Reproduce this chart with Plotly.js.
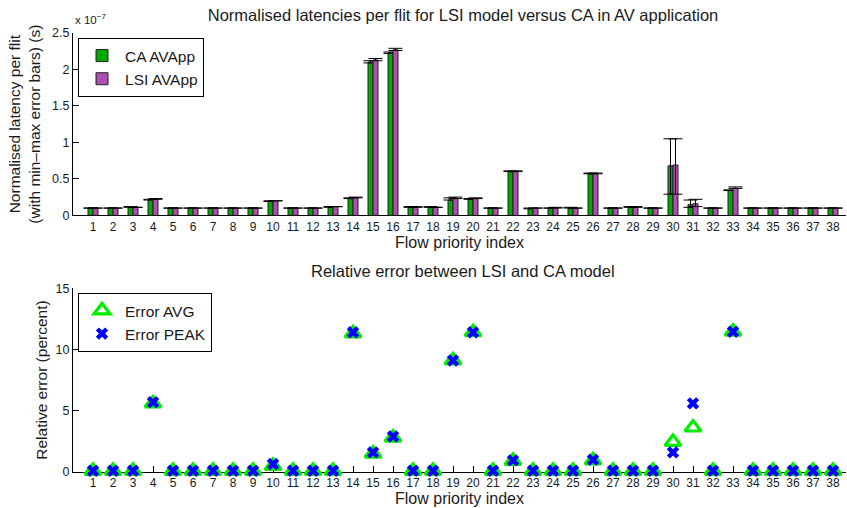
<!DOCTYPE html>
<html>
<head>
<meta charset="utf-8">
<script src="https://cdn.plot.ly/plotly-3.0.1.min.js"></script>
<style>html,body{margin:0;padding:0;background:#fff;}#chart{width:847px;height:508px;}</style>
</head>
<body>
<div id="chart"></div>
<script>
// Flow priority indices (categories)
const flowIndex = [1,2,3,4,5,6,7,8,9,10,11,12,13,14,15,16,17,18,19,20,21,22,23,24,25,26,27,28,29,30,31,32,33,34,35,36,37,38];
const flowLabels = ['1','2','3','4','5','6','7','8','9','10','11','12','13','14','15','16','17','18','19','20','21','22','23','24','25','26','27','28','29','30','31','32','33','34','35','36','37','38'];

// Normalised latency per flit (units of 1e-7 s)
const caLatency  = [0.10,0.10,0.11,0.21,0.10,0.10,0.10,0.10,0.10,0.19,0.10,0.10,0.11,0.23,2.10,2.23,0.11,0.11,0.21,0.22,0.10,0.60,0.09,0.10,0.10,0.57,0.10,0.11,0.10,0.68,0.15,0.10,0.34,0.10,0.10,0.10,0.10,0.10];
const lsiLatency = [0.10,0.10,0.11,0.22,0.10,0.10,0.10,0.10,0.10,0.20,0.10,0.10,0.12,0.24,2.13,2.27,0.11,0.11,0.23,0.23,0.10,0.60,0.10,0.10,0.10,0.57,0.10,0.11,0.10,0.69,0.16,0.10,0.37,0.10,0.10,0.10,0.10,0.10];

// min / max (error bars), units of 1e-7 s
const caMin  = [0.10,0.10,0.11,0.21,0.10,0.10,0.10,0.10,0.10,0.19,0.10,0.10,0.11,0.23,2.09,2.22,0.11,0.11,0.21,0.22,0.10,0.60,0.09,0.10,0.10,0.57,0.10,0.11,0.10,0.29,0.11,0.10,0.34,0.10,0.10,0.10,0.10,0.10];
const caMax  = [0.10,0.10,0.12,0.22,0.10,0.10,0.10,0.10,0.10,0.20,0.10,0.10,0.12,0.24,2.12,2.24,0.12,0.12,0.24,0.23,0.10,0.61,0.10,0.10,0.11,0.58,0.10,0.12,0.10,1.05,0.21,0.10,0.35,0.10,0.10,0.10,0.10,0.10];
const lsiMin = [0.10,0.10,0.11,0.22,0.10,0.10,0.10,0.10,0.10,0.20,0.10,0.10,0.12,0.24,2.12,2.26,0.11,0.11,0.23,0.23,0.10,0.60,0.10,0.10,0.10,0.57,0.10,0.11,0.10,0.29,0.12,0.10,0.37,0.10,0.10,0.10,0.10,0.10];
const lsiMax = [0.10,0.10,0.11,0.23,0.10,0.10,0.10,0.10,0.10,0.20,0.10,0.10,0.12,0.25,2.15,2.29,0.12,0.11,0.25,0.24,0.10,0.61,0.10,0.11,0.10,0.58,0.10,0.12,0.10,1.05,0.22,0.10,0.39,0.10,0.10,0.10,0.10,0.10];

// Relative error between LSI and CA (percent)
const errorAvg  = [0.1,0.1,0.1,5.6,0.1,0.1,0.1,0.1,0.1,0.5,0.1,0.1,0.1,11.3,1.5,2.8,0.1,0.1,9.1,11.4,0.1,0.9,0.1,0.1,0.1,0.95,0.1,0.1,0.1,2.45,3.63,0.1,11.45,0.1,0.1,0.1,0.1,0.1];
const errorPeak = [0.1,0.1,0.1,5.7,0.1,0.1,0.1,0.1,0.1,0.65,0.1,0.1,0.1,11.4,1.6,2.9,0.1,0.1,9.1,11.4,0.1,0.95,0.1,0.1,0.1,1.0,0.1,0.1,0.1,1.6,5.6,0.1,11.45,0.1,0.1,0.1,0.1,0.1];

const FONT = 'Liberation Sans, Arial, Helvetica, sans-serif';
const TXT = '#1a1a1a';

function errBar(val, lo, hi) {
  return {
    type: 'data', symmetric: false,
    array: val.map((v, i) => Math.max(hi[i] - v, 0)),
    arrayminus: val.map((v, i) => Math.max(v - lo[i], 0)),
    color: '#000', thickness: 1, width: 7, visible: true
  };
}

const traces = [
  {type: 'bar', name: 'CA AVApp', x: flowIndex, y: caLatency, xaxis: 'x', yaxis: 'y',
   marker: {color: '#00aa00', line: {color: '#222', width: 1}},
   error_y: errBar(caLatency, caMin, caMax), legend: 'legend'},
  {type: 'bar', name: 'LSI AVApp', x: flowIndex, y: lsiLatency, xaxis: 'x', yaxis: 'y',
   marker: {color: '#b04fb0', line: {color: '#222', width: 1}},
   error_y: errBar(lsiLatency, lsiMin, lsiMax), legend: 'legend'},
  {type: 'scatter', mode: 'markers', name: 'Error AVG', x: flowIndex, y: errorAvg, xaxis: 'x2', yaxis: 'y2',
   marker: {symbol: 'triangle-up-open', size: 14, color: '#00ee00', line: {color: '#00ee00', width: 3.2}},
   legend: 'legend2', cliponaxis: false},
  {type: 'scatter', mode: 'markers', name: 'Error PEAK', x: flowIndex, y: errorPeak, xaxis: 'x2', yaxis: 'y2',
   marker: {symbol: 'x', size: 11, color: '#0000ff', line: {width: 0}},
   legend: 'legend2', cliponaxis: false}
];

const xCommon = {
  range: [0, 38.65], tickmode: 'array', tickvals: flowIndex, ticktext: flowLabels, tickangle: 0,
  ticks: 'inside', ticklen: 6, tickcolor: '#000', showline: true, linecolor: '#000', linewidth: 1,
  showgrid: false, zeroline: false, mirror: false, layer: 'below traces',
  tickfont: {family: FONT, size: 12, color: TXT}
};
const yCommon = {
  ticks: 'inside', ticklen: 6, tickcolor: '#000', showline: true, linecolor: '#000', linewidth: 1,
  showgrid: false, zeroline: false, mirror: false, layer: 'below traces',
  tickfont: {family: FONT, size: 12.5, color: TXT}
};

const layout = {
  width: 847, height: 508,
  margin: {l: 73, r: 1, t: 33, b: 35.7, pad: 0},
  paper_bgcolor: '#fff', plot_bgcolor: '#fff',
  font: {family: FONT, color: TXT},
  barmode: 'group', bargap: 0.5, bargroupgap: 0,
  title: {text: 'Normalised latencies per flit for LSI model versus CA in AV application',
          x: 463/847, xanchor: 'center', y: 1 - 15/508, yanchor: 'middle',
          font: {family: FONT, size: 16.5, color: TXT}},
  xaxis: Object.assign({}, xCommon, {anchor: 'y', domain: [0, 1],
    title: {text: 'Flow priority index', font: {family: FONT, size: 16, color: TXT}, standoff: 1}}),
  yaxis: Object.assign({}, yCommon, {anchor: 'x', domain: [0.5846, 1], range: [0, 2.5], dtick: 0.5, tick0: 0, tickmode: 'linear',
    title: {text: 'Normalised latency per flit<br>(with min–max error bars) (s)', font: {family: FONT, size: 15.5, color: TXT}, standoff: 7}}),
  xaxis2: Object.assign({}, xCommon, {anchor: 'y2', domain: [0, 1],
    title: {text: 'Flow priority index', font: {family: FONT, size: 16, color: TXT}, standoff: 1}}),
  yaxis2: Object.assign({}, yCommon, {anchor: 'x2', domain: [0, 0.4188], range: [0, 15], dtick: 5, tick0: 0, tickmode: 'linear',
    title: {text: 'Relative error (percent)', font: {family: FONT, size: 15.5, color: TXT}, standoff: 4}}),
  legend: {x: 0.0065, y: 0.9886, xanchor: 'left', yanchor: 'top', bgcolor: '#fff',
    bordercolor: '#000', borderwidth: 1, font: {family: FONT, size: 15.5, color: TXT}, itemwidth: 36, tracegroupgap: 0},
  legend2: {x: 0.0065, y: 0.408, xanchor: 'left', yanchor: 'top', bgcolor: '#fff',
    bordercolor: '#000', borderwidth: 1, font: {family: FONT, size: 15.5, color: TXT}, itemwidth: 36, tracegroupgap: 0},
  showlegend: true,
  annotations: [
    {text: 'Relative error between LSI and CA model', xref: 'paper', yref: 'paper',
     x: (463-73)/773, xanchor: 'center', y: (472.3-271)/439.3, yanchor: 'middle', showarrow: false,
     font: {family: FONT, size: 16.5, color: TXT}},
    {text: 'x 10<sup>−7</sup>', xref: 'paper', yref: 'paper', x: 0, xanchor: 'left',
     y: (472.3-19)/439.3, yanchor: 'middle', showarrow: false, font: {family: FONT, size: 11.5, color: TXT}}
  ]
};

Plotly.newPlot('chart', traces, layout, {displayModeBar: false, staticPlot: true});
</script>
</body>
</html>
